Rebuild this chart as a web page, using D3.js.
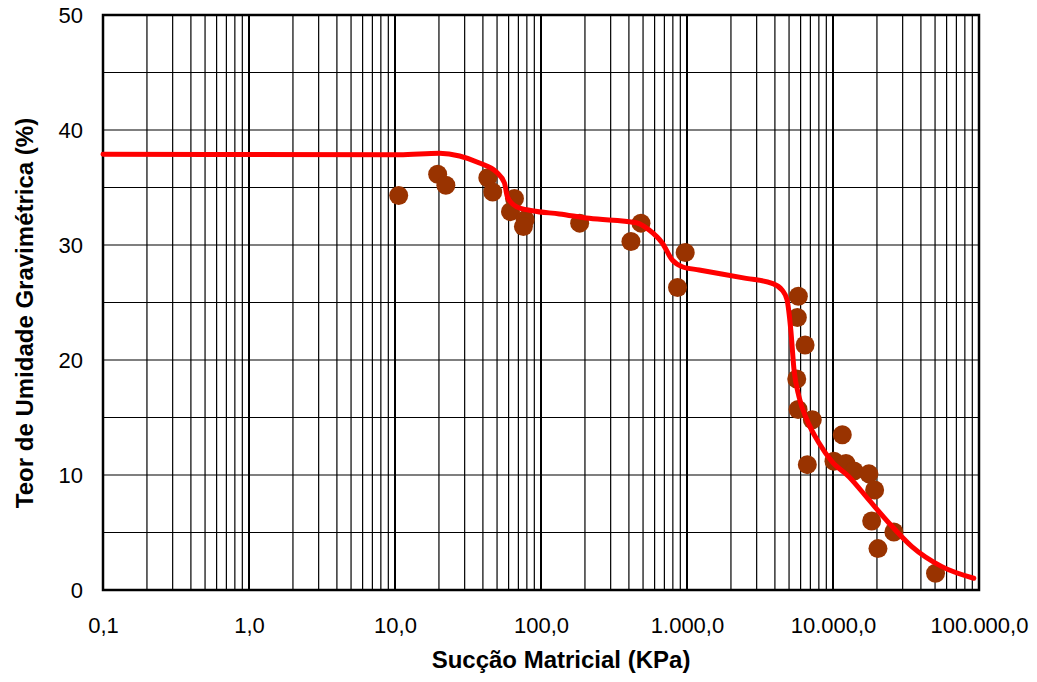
<!DOCTYPE html>
<html>
<head>
<meta charset="utf-8">
<script src="https://cdn.jsdelivr.net/npm/d3@7/dist/d3.min.js"></script>
<style>
  html, body { margin: 0; padding: 0; background: #fff; }
  svg { display: block; }
  text { font-family: "Liberation Sans", Arial, sans-serif; fill: #000; }
</style>
</head>
<body>
<svg id="chart" width="1037" height="682"></svg>
<script>
// Measured suction (kPa) and gravimetric water content (%)
const suctionKPa = [10.6, 19.6, 22.3, 43.2, 46.7, 65.8, 61.8, 77.9, 75.8, 184, 413, 484, 972, 861,
  5790, 5700, 6440, 5645, 5765, 7215, 11580, 6670, 10160, 12270, 13930, 17630, 19280,
  18400, 26120, 20320, 50400];
const waterContent = [34.3, 36.15, 35.2, 35.85, 34.6, 34.05, 32.9, 32.2, 31.6, 31.9, 30.3, 31.9, 29.35, 26.3,
  25.55, 23.7, 21.3, 18.35, 15.7, 14.8, 13.5, 10.9, 11.2, 11.0, 10.35, 10.1, 8.7,
  6.0, 5.05, 3.6, 1.45];

// Fitted retention curve
const fitSuction = [0.1, 10.7, 20.2, 27.7, 37.9, 49.5, 56.2, 58.9, 67.9, 87.3, 133.6, 214, 449, 551, 677,
  792, 927, 1211, 2541, 3828, 4478, 4845, 5140, 5410, 5850, 6637, 8020, 9845, 12860, 17630,
  24150, 34690, 55680, 92100];
const fitWater = [37.9, 37.85, 37.97, 37.74, 37.13, 36.35, 35.39, 34.17, 33.33, 32.98, 32.7, 32.32, 31.94, 31.3, 30.17,
  28.7, 28.11, 27.83, 27.1, 26.67, 26.09, 25.22, 22.61, 19.13, 16.81, 14.78, 12.78, 11.16, 9.85, 7.83,
  5.83, 3.77, 2.03, 1.02];

const xTickValues = [0.1, 1, 10, 100, 1000, 10000, 100000];
const xTickLabels = ["0,1", "1,0", "10,0", "100,0", "1.000,0", "10.000,0", "100.000,0"];
const yTickValues = [0, 10, 20, 30, 40, 50];
const yTickLabels = ["0", "10", "20", "30", "40", "50"];

const svg = d3.select("#chart");
const plotL = 103, plotR = 979, plotT = 15, plotB = 590;

const x = d3.scaleLog().domain([0.1, 100000]).range([plotL, plotR]);
const y = d3.scaleLinear().domain([0, 50]).range([plotB, plotT]);

// Grid: every 1..9 multiple per decade, and every 5 % vertically
const grid = svg.append("g");
const gridX = [];
for (let d = -1; d <= 4; d++) {
  for (let k = 1; k <= 9; k++) gridX.push({ v: k * Math.pow(10, d), major: k === 1 });
}
grid.selectAll("line.vx").data(gridX).join("line")
  .attr("x1", d => x(d.v)).attr("x2", d => x(d.v))
  .attr("y1", plotT).attr("y2", plotB)
  .attr("stroke", "#000")
  .attr("stroke-width", d => d.major ? 2 : 1.2);

grid.selectAll("line.hy").data(d3.range(5, 50, 5)).join("line")
  .attr("x1", plotL).attr("x2", plotR)
  .attr("y1", d => y(d)).attr("y2", d => y(d))
  .attr("stroke", "#000").attr("stroke-width", 1.2);

// Plot frame
svg.append("rect")
  .attr("x", plotL).attr("y", plotT)
  .attr("width", plotR - plotL).attr("height", plotB - plotT)
  .attr("fill", "none").attr("stroke", "#000").attr("stroke-width", 2.5);

// Measured points
svg.append("g").selectAll("circle")
  .data(suctionKPa.map((s, i) => [s, waterContent[i]]))
  .join("circle")
  .attr("cx", d => x(d[0])).attr("cy", d => y(d[1]))
  .attr("r", 9.5).attr("fill", "#993300");

// Fitted curve
const line = d3.line()
  .x(d => x(d[0])).y(d => y(d[1]))
  .curve(d3.curveMonotoneX);
svg.append("path")
  .datum(fitSuction.map((s, i) => [s, fitWater[i]]))
  .attr("d", line)
  .attr("fill", "none").attr("stroke", "#ff0000")
  .attr("stroke-width", 5).attr("stroke-linejoin", "round").attr("stroke-linecap", "round");

// Axes labels
const xAxis = d3.axisBottom(x).tickValues(xTickValues)
  .tickFormat((d, i) => xTickLabels[i]).tickSize(0).tickPadding(0);
const gx = svg.append("g").attr("transform", `translate(0,${plotB})`).call(xAxis);
gx.select(".domain").remove();
gx.selectAll("text").attr("font-size", 22).attr("dy", null).attr("y", 43)
  .style("font-family", '"Liberation Sans", Arial, sans-serif');

const yAxis = d3.axisLeft(y).tickValues(yTickValues)
  .tickFormat((d, i) => yTickLabels[i]).tickSize(0).tickPadding(0);
const gy = svg.append("g").attr("transform", `translate(${plotL},0)`).call(yAxis);
gy.select(".domain").remove();
gy.selectAll("text").attr("font-size", 22).attr("x", -20).attr("dy", "0.36em")
  .style("font-family", '"Liberation Sans", Arial, sans-serif');

svg.append("text")
  .attr("x", 561).attr("y", 668)
  .attr("text-anchor", "middle")
  .attr("font-size", 24).attr("font-weight", "bold")
  .text("Sucção Matricial  (KPa)");

svg.append("text")
  .attr("transform", "translate(33,313) rotate(-90)")
  .attr("text-anchor", "middle")
  .attr("font-size", 24).attr("font-weight", "bold")
  .text("Teor de Umidade Gravimétrica (%)");
</script>
</body>
</html>
